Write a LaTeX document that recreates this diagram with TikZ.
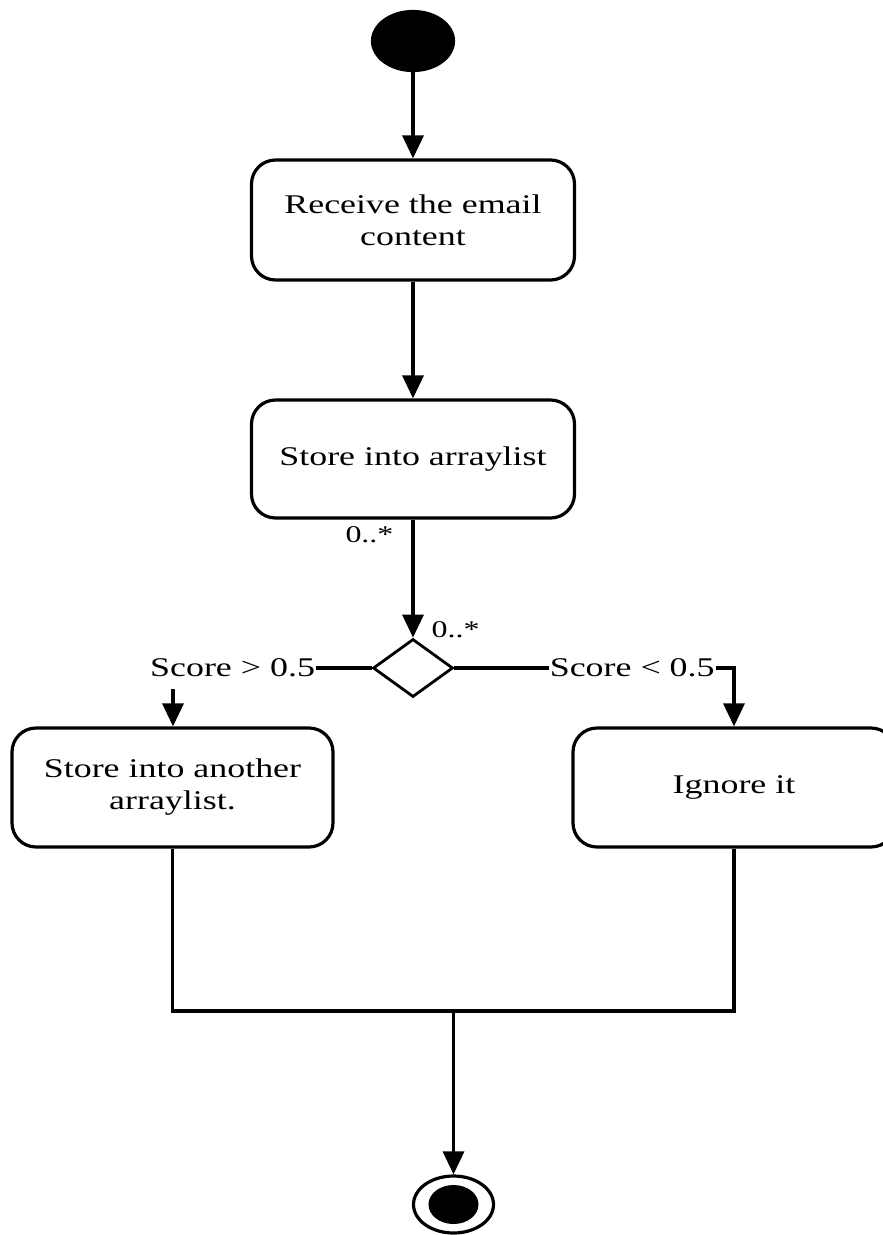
\documentclass[tikz,border=0pt]{standalone}
\usepackage{fontspec}
\setmainfont{Liberation Serif}[FakeStretch=1.33]
\usetikzlibrary{arrows.meta,shapes.geometric}
\begin{document}
\begin{tikzpicture}[x=1pt,y=-1pt,
  line width=3.2pt,
  arr/.style={-{Triangle[length=23pt,width=21pt]}},
  act/.style={draw, rounded corners=24pt, minimum width=323pt, minimum height=120pt,
    inner sep=0pt, align=center, font=\fontsize{27}{32}\selectfont},
  lbl/.style={font=\fontsize{27}{32}\selectfont, fill=white, inner xsep=1pt, inner ysep=12pt},
  mult/.style={font=\fontsize{24}{28}\selectfont, inner sep=0pt}
]
\useasboundingbox (0,0) rectangle (883,1235);
\clip (0,0) rectangle (883,1235);

\node[ellipse, fill=black, draw, minimum width=81pt, minimum height=59pt, inner sep=0pt] (start) at (413,41) {};
\node[act] (recv) at (413,220) {Receive the email\\content};
\node[act, minimum height=118pt] (store) at (413,459) {Store into arraylist};
\node[diamond, draw, line width=2.8pt, minimum width=80pt, minimum height=58pt, inner sep=0pt] (dec) at (413,668) {};
\node[act, minimum width=321pt, minimum height=119pt] (another) at (172.5,787.5) {Store into another\\arraylist.};
\node[act, minimum width=322pt, minimum height=119pt] (ignore) at (734,787.5) {Ignore it};
\node[ellipse, draw, minimum width=80pt, minimum height=57pt, inner sep=0pt] (end) at (453.5,1204.5) {};
\node[ellipse, fill=black, minimum width=50pt, minimum height=39pt, inner sep=0pt] (endin) at (end) {};

\draw[arr] (start) -- (recv);
\draw[arr] (recv) -- (store);
\draw[arr] (store) -- (dec)
  node[mult, at start, anchor=north east, xshift=-18pt, yshift=-5pt] {0..*}
  node[mult, at end, anchor=west, xshift=17pt, yshift=8pt] {0..*};

\coordinate (lc) at (173,668);
\draw[arr] (dec.west) -- node[lbl, pos=0.7] {Score > 0.5} (lc) -- (another.north -| lc);

\coordinate (rc) at (734,668);
\draw[arr] (dec.east) -- node[lbl, pos=0.636] {Score < 0.5} (rc) -- (ignore.north -| rc);

\coordinate (m) at (453.5,1011);
\draw (another.south) |- (ignore.south |- m) -- (ignore.south);
\draw[arr] (m) -- (end);
\end{tikzpicture}
\end{document}
